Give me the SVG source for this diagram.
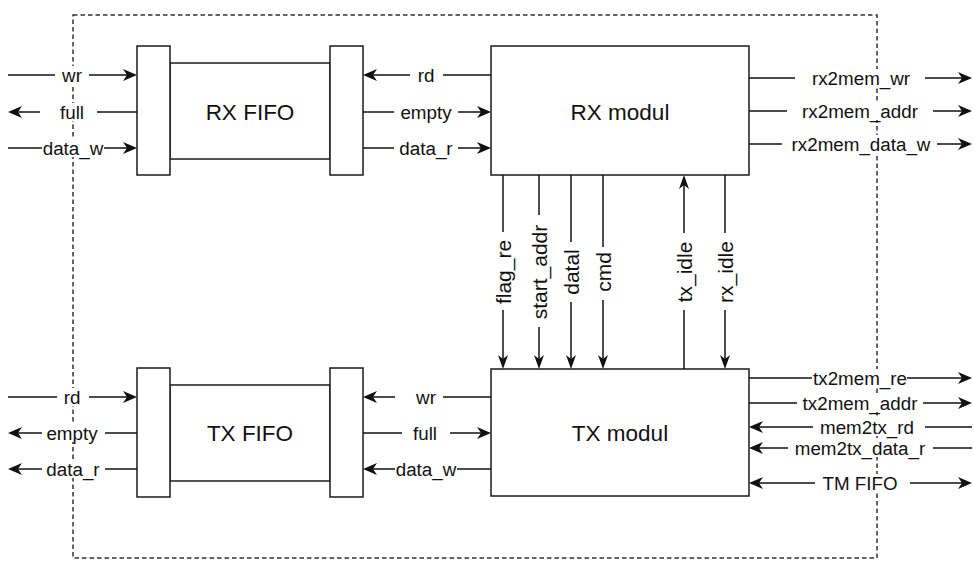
<svg xmlns="http://www.w3.org/2000/svg" width="974" height="561" viewBox="0 0 974 561">
<style>
.box{fill:#fff;stroke:#1a1a1a;stroke-width:1.5}
.big{font-family:"Liberation Sans",Arial,sans-serif;font-size:22.5px;fill:#111;text-anchor:middle;dominant-baseline:central}
.lbl{font-family:"Liberation Sans",Arial,sans-serif;font-size:18.8px;fill:#111;text-anchor:middle;dominant-baseline:central}
.vl{font-family:"Liberation Sans",Arial,sans-serif;font-size:21px;fill:#111;text-anchor:middle;dominant-baseline:central}
.w{stroke:#111;stroke-width:1.5;fill:none}
.h{marker-end:url(#ah)}
.hs{marker-start:url(#ah)}
.v{marker-end:url(#av)}
.bg{fill:#fff;stroke:none}
</style>
<defs>
<marker id="ah" viewBox="0 0 14 12" refX="4" refY="6" markerWidth="14" markerHeight="12" markerUnits="userSpaceOnUse" orient="auto-start-reverse"><path d="M0,0 L14,6 L0,12 L4,6 Z" fill="#111"/></marker>
<marker id="av" viewBox="0 0 14 10" refX="4" refY="5" markerWidth="14" markerHeight="10" markerUnits="userSpaceOnUse" orient="auto-start-reverse"><path d="M0,0 L14,5 L0,10 L4,5 Z" fill="#111"/></marker>
</defs>
<rect id="boundary" x="73" y="15" width="804" height="543" fill="none" stroke="#333" stroke-width="1.5" stroke-dasharray="4.5 3"/>
<g id="rx-fifo">
<rect class="box" x="170" y="63" width="160" height="96"/>
<rect class="box" x="137" y="46" width="33" height="129"/>
<rect class="box" x="330" y="46" width="33" height="129"/>
<text class="big" x="250" y="112">RX FIFO</text>
</g>
<g id="rx-modul">
<rect class="box" x="491" y="46" width="258" height="129"/>
<text class="big" x="620" y="112">RX modul</text>
</g>
<g id="tx-fifo">
<rect class="box" x="170" y="385" width="160" height="96"/>
<rect class="box" x="137" y="368" width="33" height="129"/>
<rect class="box" x="330" y="368" width="33" height="129"/>
<text class="big" x="250" y="433">TX FIFO</text>
</g>
<g id="tx-modul">
<rect class="box" x="491" y="369" width="258" height="127"/>
<text class="big" x="620" y="433">TX modul</text>
</g>
<g id="connectors">
<line class="w h" x1="8" y1="75" x2="127" y2="75"/>
<line class="w h" x1="137" y1="112" x2="18" y2="112"/>
<line class="w h" x1="8" y1="148" x2="127" y2="148"/>
<line class="w h" x1="491" y1="75" x2="373" y2="75"/>
<line class="w h" x1="363" y1="112" x2="481" y2="112"/>
<line class="w h" x1="363" y1="148" x2="481" y2="148"/>
<line class="w h" x1="749" y1="78" x2="962" y2="78"/>
<line class="w h" x1="749" y1="111" x2="962" y2="111"/>
<line class="w h" x1="749" y1="144" x2="962" y2="144"/>
<line class="w v" x1="503" y1="175" x2="503" y2="359"/>
<line class="w v" x1="539" y1="175" x2="539" y2="359"/>
<line class="w v" x1="571" y1="175" x2="571" y2="359"/>
<line class="w v" x1="603" y1="175" x2="603" y2="359"/>
<line class="w v" x1="684" y1="369" x2="684" y2="185"/>
<line class="w v" x1="725" y1="175" x2="725" y2="359"/>
<line class="w h" x1="8" y1="397" x2="127" y2="397"/>
<line class="w h" x1="137" y1="433" x2="18" y2="433"/>
<line class="w h" x1="137" y1="469" x2="18" y2="469"/>
<line class="w h" x1="491" y1="397" x2="373" y2="397"/>
<line class="w h" x1="363" y1="433" x2="481" y2="433"/>
<line class="w h" x1="491" y1="469" x2="373" y2="469"/>
<line class="w h" x1="749" y1="378" x2="962" y2="378"/>
<line class="w h" x1="749" y1="403" x2="962" y2="403"/>
<line class="w h" x1="972" y1="427" x2="759" y2="427"/>
<line class="w h" x1="972" y1="448" x2="759" y2="448"/>
<line class="w h hs" x1="759" y1="483" x2="962" y2="483"/>
<g id="label-bg">
<rect class="bg" x="55" y="66" width="34" height="18"/>
<rect class="bg" x="40" y="103" width="57" height="18"/>
<rect class="bg" x="42" y="139" width="62" height="18"/>
<rect class="bg" x="410" y="66" width="33" height="18"/>
<rect class="bg" x="394" y="103" width="64" height="18"/>
<rect class="bg" x="394" y="139" width="64" height="18"/>
<rect class="bg" x="795" y="69" width="130" height="18"/>
<rect class="bg" x="787" y="102" width="146" height="18"/>
<rect class="bg" x="782" y="135" width="155" height="18"/>
<rect class="bg" x="494" y="232" width="18" height="78"/>
<rect class="bg" x="530" y="215" width="18" height="112"/>
<rect class="bg" x="562" y="242" width="18" height="60"/>
<rect class="bg" x="594" y="247" width="18" height="53"/>
<rect class="bg" x="675" y="233" width="18" height="77"/>
<rect class="bg" x="716" y="233" width="18" height="77"/>
<rect class="bg" x="57" y="388" width="32" height="18"/>
<rect class="bg" x="42" y="424" width="63" height="18"/>
<rect class="bg" x="42" y="460" width="63" height="18"/>
<rect class="bg" x="395" y="388" width="48" height="18"/>
<rect class="bg" x="402" y="424" width="48" height="18"/>
<rect class="bg" x="395" y="460" width="62" height="18"/>
<rect class="bg" x="812" y="369" width="95" height="18"/>
<rect class="bg" x="797" y="394" width="126" height="18"/>
<rect class="bg" x="813" y="418" width="112" height="18"/>
<rect class="bg" x="788" y="439" width="145" height="18"/>
<rect class="bg" x="815" y="474" width="95" height="18"/>
</g>
<g id="labels">
<text class="lbl" x="72" y="75">wr</text>
<text class="lbl" x="72" y="112">full</text>
<text class="lbl" x="73" y="148">data_w</text>
<text class="lbl" x="426" y="75">rd</text>
<text class="lbl" x="426" y="112">empty</text>
<text class="lbl" x="426" y="148">data_r</text>
<text class="lbl" x="861" y="78">rx2mem_wr</text>
<text class="lbl" x="860" y="111">rx2mem_addr</text>
<text class="lbl" x="861" y="144">rx2mem_data_w</text>
<text class="vl" transform="translate(503 272) rotate(-90)">flag_re</text>
<text class="vl" transform="translate(539 272) rotate(-90)">start_addr</text>
<text class="vl" transform="translate(571 272) rotate(-90)">datal</text>
<text class="vl" transform="translate(603 272) rotate(-90)">cmd</text>
<text class="vl" transform="translate(684 272) rotate(-90)">tx_idle</text>
<text class="vl" transform="translate(725 272) rotate(-90)">rx_idle</text>
<text class="lbl" x="72" y="397">rd</text>
<text class="lbl" x="72" y="433">empty</text>
<text class="lbl" x="73" y="469">data_r</text>
<text class="lbl" x="426" y="397">wr</text>
<text class="lbl" x="425" y="433">full</text>
<text class="lbl" x="426" y="469">data_w</text>
<text class="lbl" x="860" y="378">tx2mem_re</text>
<text class="lbl" x="860" y="403">tx2mem_addr</text>
<text class="lbl" x="867" y="427">mem2tx_rd</text>
<text class="lbl" x="860" y="448">mem2tx_data_r</text>
<text class="lbl" x="860" y="483">TM FIFO</text>
</g>
</g>
</svg>
